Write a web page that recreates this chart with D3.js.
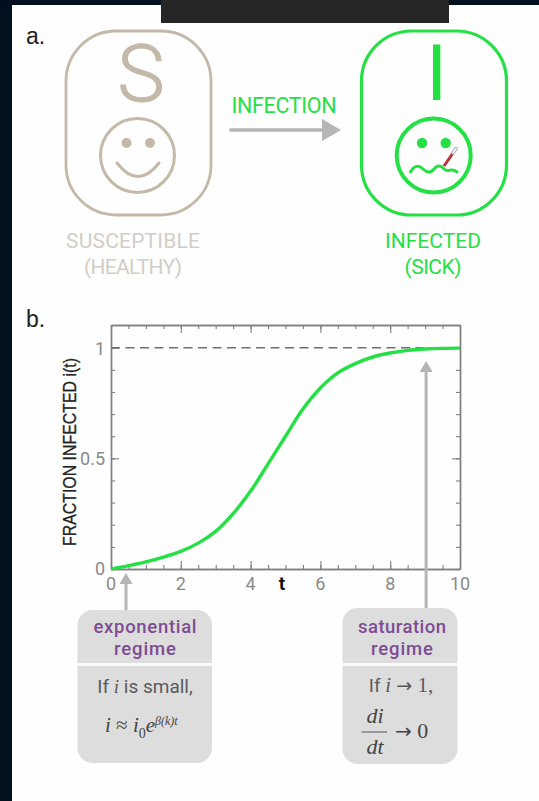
<!DOCTYPE html>
<html>
<head>
<meta charset="utf-8">
<script src="https://cdn.jsdelivr.net/npm/d3@7"></script>
<style>
  html, body { margin: 0; padding: 0; background: #00101f; }
  svg { display: block; }
  text { font-family: Roboto, sans-serif; }
  .math { font-family: "Liberation Serif", serif; }
  .arrow { font-family: "DejaVu Sans", sans-serif; }
</style>
</head>
<body>
<div id="chart"></div>
<script>
// values
const tValues = [0, 0.5, 1, 1.5, 2, 2.5, 3, 3.5, 4, 4.5, 5, 5.5, 6, 6.5, 7, 7.5, 8, 8.5, 9, 9.5, 10];
const fractionInfected = [0, 0.015, 0.032, 0.054, 0.08, 0.117, 0.17, 0.25, 0.352, 0.475, 0.6, 0.723, 0.818, 0.886, 0.928, 0.958, 0.976, 0.988, 0.994, 0.997, 0.998];
const xTickLabels = [0, 2, 4, 6, 8, 10];
const xMinorTicks = d3.range(0, 10.01, 0.5);
const yMinorTicks = d3.range(0, 1.01, 0.1);
const yMajorTicks = [0, 0.5, 1];
const saturationLevel = 1;
const exponentialArrowT = 0.43;
const saturationArrowT = 9;

const green = "#25e045", tan = "#c4b9a8", tanText = "#d2cec6", gray = "#b5b5b5",
      purple = "#7d4c94", axisGray = "#7f7f7f", tickText = "#8a8a8a";

const svg = d3.select("#chart").append("svg").attr("width", 539).attr("height", 801);

svg.append("rect").attr("x", 12).attr("y", 5).attr("width", 527).attr("height", 796).attr("fill", "#fefefe");
svg.append("rect").attr("x", 161).attr("y", 0).attr("width", 288).attr("height", 23).attr("fill", "#262626");

function label(x, y, str, size, color, anchor, extra) {
  const t = svg.append("text").attr("x", x).attr("y", y).attr("font-size", size)
    .attr("fill", color).attr("text-anchor", anchor || "middle").text(str);
  if (extra) extra(t);
  return t;
}

// panel a
label(26, 44, "a.", 23, "#222", "start", t => t.style("font-family", "'Liberation Sans'"));

const left = svg.append("g");
left.append("rect").attr("x", 66).attr("y", 31).attr("width", 145).attr("height", 184).attr("rx", 50).attr("ry", 50)
  .attr("fill", "none").attr("stroke", tan).attr("stroke-width", 2.8);
label(141, 101, "S", 80, tan, "middle", t => t.attr("font-weight", 300).attr("stroke", tan).attr("stroke-width", 1));
left.append("circle").attr("cx", 137.5).attr("cy", 155.5).attr("r", 37).attr("fill", "none").attr("stroke", tan).attr("stroke-width", 3);
left.selectAll(".eye").data([126.5, 150]).enter().append("circle").attr("cx", d => d).attr("cy", 143).attr("r", 5).attr("fill", tan);
left.append("path").attr("d", "M117,163 Q138,190 159,163").attr("fill", "none").attr("stroke", tan).attr("stroke-width", 3).attr("stroke-linecap", "round");

const right = svg.append("g");
right.append("rect").attr("x", 361.5).attr("y", 31).attr("width", 145).attr("height", 184).attr("rx", 50).attr("ry", 50)
  .attr("fill", "none").attr("stroke", green).attr("stroke-width", 3.2);
label(436.5, 100, "I", 78, green, "middle");
right.append("circle").attr("cx", 433.7).attr("cy", 155.5).attr("r", 37).attr("fill", "none").attr("stroke", green).attr("stroke-width", 4);
right.selectAll(".eye").data([422, 445.7]).enter().append("circle").attr("cx", d => d).attr("cy", 143).attr("r", 5.2).attr("fill", green);
right.append("path").attr("d", "M410.5,172 C414,165 419,165 423,169 C427,173 431,173 434,169 C437,165 441,165 444,169 C448,173 452,167 457,172")
  .attr("fill", "none").attr("stroke", green).attr("stroke-width", 3).attr("stroke-linecap", "round");
right.append("line").attr("x1", 444).attr("y1", 166).attr("x2", 453).attr("y2", 153).attr("stroke", "#b8323a").attr("stroke-width", 3);
right.append("line").attr("x1", 453).attr("y1", 153).attr("x2", 456).attr("y2", 148.5).attr("stroke", "#999").attr("stroke-width", 3.4).attr("stroke-linecap", "round");
right.append("line").attr("x1", 453).attr("y1", 153).attr("x2", 456).attr("y2", 148.5).attr("stroke", "#fff").attr("stroke-width", 1.8).attr("stroke-linecap", "round");

label(284, 113, "INFECTION", 21.5, green, "middle", t => t.attr("textLength", 105));
svg.append("line").attr("x1", 229.5).attr("y1", 130).attr("x2", 325).attr("y2", 130).attr("stroke", gray).attr("stroke-width", 3.5);
svg.append("path").attr("d", "M322,119 L341,130 L322,141 Z").attr("fill", gray);

label(133, 248, "SUSCEPTIBLE", 21, tanText, "middle", t => t.attr("textLength", 134));
label(133, 274, "(HEALTHY)", 21, tanText, "middle", t => t.attr("textLength", 98));
label(433, 248, "INFECTED", 21, green, "middle", t => t.attr("textLength", 96));
label(433, 274, "(SICK)", 21, green, "middle", t => t.attr("textLength", 57));

// panel b
label(26, 327, "b.", 23, "#222", "start", t => t.style("font-family", "'Liberation Sans'"));

const plot = { left: 111, right: 460, top: 325, bottom: 569 };
const x = d3.scaleLinear().domain([0, 10]).range([plot.left, plot.right]);
const y = d3.scaleLinear().domain([0, 1.1026]).range([plot.bottom, plot.top]);

function styleAxis(g) {
  g.selectAll("path.domain").attr("stroke", axisGray).attr("stroke-width", 1.4);
  g.selectAll(".tick line").attr("stroke", axisGray).attr("stroke-width", 1.1);
  g.selectAll(".tick text").remove();
}

// axes on all four sides, ticks pointing in, minor and major
[
  [d3.axisBottom(x), plot.bottom, "x", xMinorTicks, xTickLabels],
  [d3.axisTop(x), plot.top, "x", xMinorTicks, xTickLabels],
  [d3.axisLeft(y), plot.left, "y", yMinorTicks, yMajorTicks],
  [d3.axisRight(y), plot.right, "y", yMinorTicks, yMajorTicks]
].forEach(([axis, pos, dir, minor, major]) => {
  const t = dir == "x" ? "translate(0," + pos + ")" : "translate(" + pos + ",0)";
  svg.append("g").attr("transform", t)
    .call(axis.tickValues(minor).tickSizeOuter(0).tickSizeInner(-4).tickFormat(""))
    .call(styleAxis);
  svg.append("g").attr("transform", t)
    .call(axis.tickValues(major).tickSizeOuter(0).tickSizeInner(-8).tickFormat(""))
    .call(styleAxis);
});

// x / y tick labels, placed from the same scales
svg.append("g").selectAll("text").data(xTickLabels).enter().append("text")
  .attr("x", d => x(d)).attr("y", 590).attr("font-size", 18)
  .attr("fill", tickText).attr("text-anchor", "middle").text(d => d);
svg.append("g").selectAll("text").data(yMajorTicks).enter().append("text")
  .attr("x", 105).attr("y", d => y(d) + (d == 0 ? 6 : 7)).attr("font-size", 18)
  .attr("fill", tickText).attr("text-anchor", "end").text(d => d);

label(282, 590, "t", 19, "#111", "middle", t => t.attr("font-weight", 700));
svg.append("text").attr("transform", "translate(76,546) rotate(-90)").attr("font-size", 18)
  .attr("fill", "#222").attr("stroke", "#222").attr("stroke-width", 0.3)
  .attr("textLength", 188).attr("lengthAdjust", "spacingAndGlyphs")
  .style("font-family", "'Liberation Sans'").text("FRACTION INFECTED i(t)");

// dashed saturation line
svg.append("line").attr("x1", x(0)).attr("x2", x(10)).attr("y1", y(saturationLevel)).attr("y2", y(saturationLevel))
  .attr("stroke", "#6f6f6f").attr("stroke-width", 1.5).attr("stroke-dasharray", "9,5.5");

// the curve
const line = d3.line().x(d => x(d[0])).y(d => y(d[1])).curve(d3.curveCatmullRom.alpha(0.5));
svg.append("path").datum(d3.zip(tValues, fractionInfected)).attr("d", line)
  .attr("fill", "none").attr("stroke", green).attr("stroke-width", 3.4);

// pointer arrows
function pointer(px, tip, base, end) {
  svg.append("line").attr("x1", px).attr("x2", px).attr("y1", base - 1).attr("y2", end).attr("stroke", gray).attr("stroke-width", 3);
  svg.append("path").attr("d", `M${px},${tip} L${px + 6.5},${base} L${px - 6.5},${base} Z`).attr("fill", gray);
}
pointer(x(exponentialArrowT), 573, 584, 611);
pointer(x(saturationArrowT) + 1, 361, 372, 609);

// regime boxes
function box(x0, x1, y0, y1) {
  svg.append("rect").attr("x", x0).attr("y", y0).attr("width", x1 - x0).attr("height", y1 - y0).attr("rx", 15).attr("fill", "#dddddd");
  svg.append("rect").attr("x", x0).attr("y", 663).attr("width", x1 - x0).attr("height", 3).attr("fill", "#fafafa");
}
box(77.5, 212, 610, 763);
box(342.5, 457.5, 608, 764);

label(145, 633, "exponential", 18.5, purple, "middle", t => t.attr("font-weight", 500).attr("textLength", 103));
label(145, 655, "regime", 18.5, purple, "middle", t => t.attr("font-weight", 500).attr("textLength", 62));
label(402, 632.5, "saturation", 18.5, purple, "middle", t => t.attr("font-weight", 500).attr("textLength", 88));
label(402, 655, "regime", 18.5, purple, "middle", t => t.attr("font-weight", 500).attr("textLength", 62));

const small = label(145, 693, "", 19, "#5a5a5a");
small.append("tspan").text("If ");
small.append("tspan").attr("class", "math").attr("font-style", "italic").text("i");
small.append("tspan").text(" is small,");

const formula = label(105, 732, "", 21, "#444", "start").attr("class", "math");
formula.append("tspan").attr("font-style", "italic").text("i");
formula.append("tspan").text(" ≈ ");
formula.append("tspan").attr("font-style", "italic").text("i");
formula.append("tspan").attr("font-size", 14).attr("dy", 6).text("0");
formula.append("tspan").attr("font-style", "italic").attr("dy", -6).text("e");
formula.append("tspan").attr("font-style", "italic").attr("font-size", 12).attr("dy", -7).text("β(k)t");

const sat = label(401, 692, "", 19, "#5a5a5a");
sat.append("tspan").text("If ");
sat.append("tspan").attr("class", "math").attr("font-style", "italic").attr("font-size", 21).text("i ");
sat.append("tspan").attr("class", "arrow").attr("font-size", 19).text("→");
sat.append("tspan").attr("class", "math").attr("font-size", 21).text(" 1,");

label(375, 723, "di", 22, "#444").attr("class", "math").attr("font-style", "italic");
svg.append("line").attr("x1", 361.5).attr("x2", 387).attr("y1", 732).attr("y2", 732).attr("stroke", "#555").attr("stroke-width", 1);
label(375, 754, "dt", 22, "#444").attr("class", "math").attr("font-style", "italic");
const toZero = label(395, 738, "", 22, "#444", "start");
toZero.append("tspan").attr("class", "arrow").attr("font-size", 20).text("→");
toZero.append("tspan").attr("class", "math").text(" 0");
</script>
</body>
</html>
